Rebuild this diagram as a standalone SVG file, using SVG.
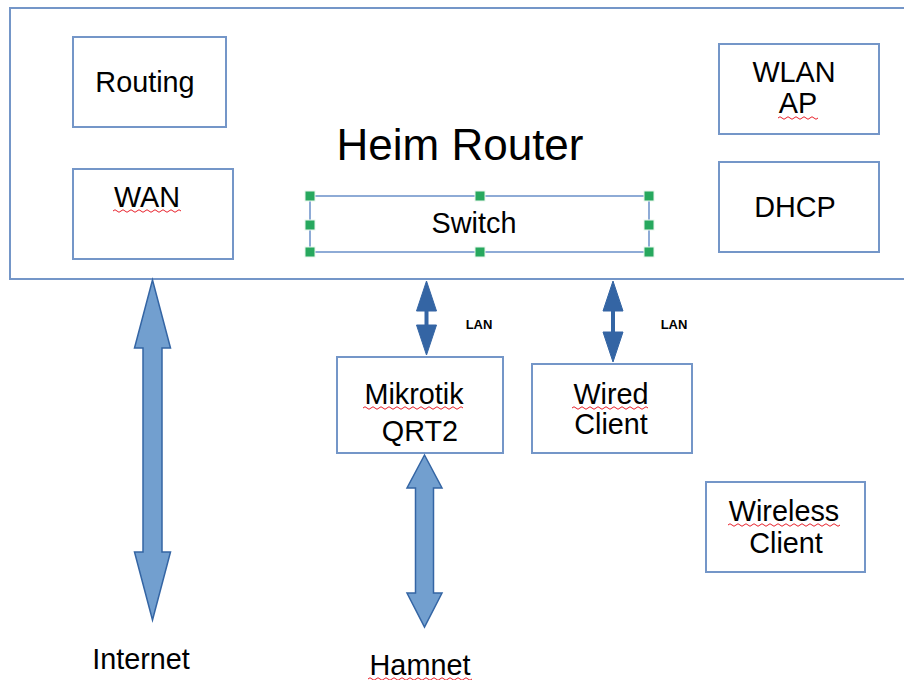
<svg xmlns="http://www.w3.org/2000/svg" width="904" height="680" viewBox="0 0 904 680">
<defs>
<style>
.box{fill:#fff;stroke:#7496c8;stroke-width:2}
.t{font-family:"Liberation Sans",Arial,sans-serif;font-size:28.8px;fill:#000;text-anchor:middle}
.lan{font-family:"Liberation Sans",Arial,sans-serif;font-size:13px;font-weight:bold;fill:#000;text-anchor:middle}
.big{fill:#729fcf;stroke:#3465a4;stroke-width:1.5;stroke-linejoin:miter}
.thin{fill:#3465a4;stroke:#3465a4;stroke-width:1}
.sq{fill:none;stroke:#e8202a;stroke-width:1}
.h{fill:#27a85e;stroke:#e8f5ec;stroke-width:1}
</style>
</defs>
<rect width="904" height="680" fill="#fff"/>
<g id="router">
<rect class="box" x="10" y="8" width="910" height="271"/>
<text class="t" x="460" y="160" style="font-size:44px">Heim Router</text>
</g>
<g id="routing">
<rect class="box" x="73" y="37" width="153" height="90"/>
<text class="t" x="145" y="92">Routing</text>
</g>
<g id="wan">
<rect class="box" x="73" y="169" width="160" height="90"/>
<text class="t" x="147" y="207">WAN</text>
<path class="sq" d="M113 211 q2 -2.5 4 0 t4 0 t4 0 t4 0 t4 0 t4 0 t4 0 t4 0 t4 0 t4 0 t4 0 t4 0 t4 0 t4 0 t4 0 t4 0 t4 0"/>
</g>
<g id="wlan">
<rect class="box" x="719" y="44" width="160" height="90"/>
<text class="t" x="794" y="82">WLAN</text>
<text class="t" x="798" y="113">AP</text>
<path class="sq" d="M778 118 q2 -2.5 4 0 t4 0 t4 0 t4 0 t4 0 t4 0 t4 0 t4 0 t4 0 t4 0"/>
</g>
<g id="dhcp">
<rect class="box" x="719" y="162" width="160" height="90"/>
<text class="t" x="795" y="217">DHCP</text>
</g>
<g id="switch">
<rect x="310" y="196" width="339" height="56" fill="#fff" stroke="#8eabd6" stroke-width="2"/>
<text class="t" x="474" y="233">Switch</text>
<rect class="h" x="305" y="191" width="10" height="10"/>
<rect class="h" x="475" y="191" width="10" height="10"/>
<rect class="h" x="644" y="191" width="10" height="10"/>
<rect class="h" x="305" y="220" width="10" height="10"/>
<rect class="h" x="644" y="220" width="10" height="10"/>
<rect class="h" x="305" y="247" width="10" height="10"/>
<rect class="h" x="475" y="247" width="10" height="10"/>
<rect class="h" x="644" y="247" width="10" height="10"/>
</g>
<g id="mikrotik">
<rect class="box" x="337" y="357" width="166" height="96"/>
<text class="t" x="414" y="404">Mikrotik</text>
<text class="t" x="420" y="441">QRT2</text>
<path class="sq" d="M363 408 q2 -2.5 4 0 t4 0 t4 0 t4 0 t4 0 t4 0 t4 0 t4 0 t4 0 t4 0 t4 0 t4 0 t4 0 t4 0 t4 0 t4 0 t4 0 t4 0 t4 0 t4 0 t4 0 t4 0 t4 0 t4 0 t4 0"/>
</g>
<g id="wired">
<rect class="box" x="532" y="364" width="160" height="89"/>
<text class="t" x="611" y="404">Wired</text>
<text class="t" x="611" y="434">Client</text>
<path class="sq" d="M572 408 q2 -2.5 4 0 t4 0 t4 0 t4 0 t4 0 t4 0 t4 0 t4 0 t4 0 t4 0 t4 0 t4 0 t4 0 t4 0 t4 0 t4 0 t4 0 t4 0 t4 0"/>
</g>
<g id="wireless">
<rect class="box" x="706" y="482" width="159" height="90"/>
<text class="t" x="784" y="521">Wireless</text>
<text class="t" x="786" y="553">Client</text>
<path class="sq" d="M728 525 q2 -2.5 4 0 t4 0 t4 0 t4 0 t4 0 t4 0 t4 0 t4 0 t4 0 t4 0 t4 0 t4 0 t4 0 t4 0 t4 0 t4 0 t4 0 t4 0 t4 0 t4 0 t4 0 t4 0 t4 0 t4 0 t4 0 t4 0 t4 0 t4 0"/>
</g>
<g id="internet">
<text class="t" x="141" y="669">Internet</text>
</g>
<g id="hamnet">
<text class="t" x="420" y="675">Hamnet</text>
<path class="sq" d="M368 679 q2 -2.5 4 0 t4 0 t4 0 t4 0 t4 0 t4 0 t4 0 t4 0 t4 0 t4 0 t4 0 t4 0 t4 0 t4 0 t4 0 t4 0 t4 0 t4 0 t4 0 t4 0 t4 0 t4 0 t4 0 t4 0 t4 0 t4 0"/>
</g>
<g id="connectors">
<polygon class="big" points="152.5,280 170.5,348 162,348 162,552 170.5,552 152.5,620 134.5,552 143,552 143,348 134.5,348"/>
<polygon class="big" points="424.5,455 442,488 433.5,488 433.5,593 442,593 424.5,627 407,593 415.5,593 415.5,488 407,488"/>
<polygon class="thin" points="426.5,281 436.5,311 428,311 428,325 436.5,325 426.5,355 416.5,325 425,325 425,311 416.5,311"/>
<polygon class="thin" points="613,281 623,311 614.5,311 614.5,332 623,332 613,362 603,332 611.5,332 611.5,311 603,311"/>
<text class="lan" x="479" y="329">LAN</text>
<text class="lan" x="674" y="329">LAN</text>
</g>
</svg>
